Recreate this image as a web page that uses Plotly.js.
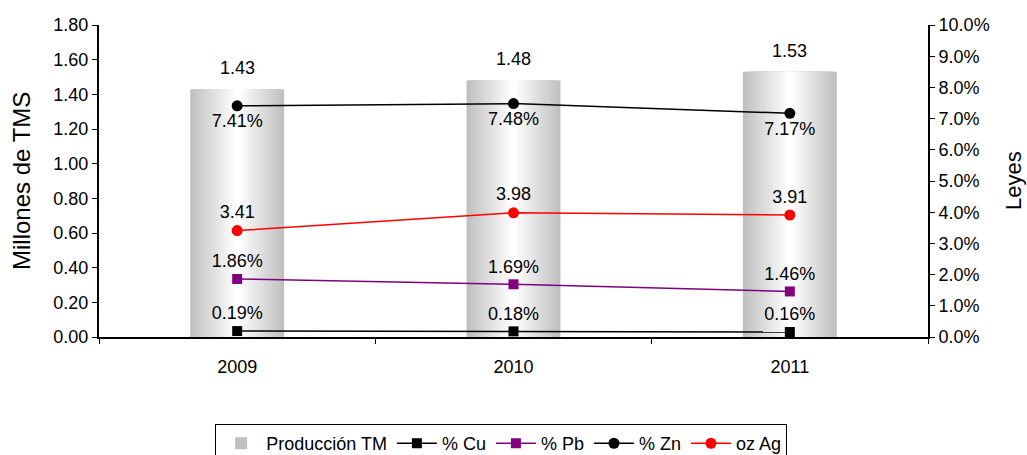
<!DOCTYPE html>
<html>
<head>
<meta charset="utf-8">
<script src="https://cdn.plot.ly/plotly-3.0.1.min.js"></script>
<style>
  html, body { margin: 0; padding: 0; background: #fff; }
  #chart { width: 1027px; height: 455px; }
</style>
</head>
<body>
<div id="chart"></div>
<script>
// Producción anual (millones de TMS) y leyes por año
const years = ['2009', '2010', '2011'];
const produccion = [1.43, 1.48, 1.53];
const leyCu = [0.19, 0.18, 0.16];
const leyPb = [1.86, 1.69, 1.46];
const leyZn = [7.41, 7.48, 7.17];
const ozAg = [3.41, 3.98, 3.91];

const FONT = 'Liberation Sans, Arial, sans-serif';
const TXT = 18;
const BAR_WIDTH = 0.34;
const LAYERS = 18;

// Shaded columns: stacked overlay bars, each narrower and lighter than the
// one beneath it, giving a grey-to-white horizontal gradient.
function shade(t) {
  const g = Math.round(192 + (255 - 192) * t);
  return `rgb(${g},${g},${g})`;
}
const barTraces = [];
for (let k = 0; k < LAYERS; k++) {
  const t = k / (LAYERS - 1);
  barTraces.push({
    type: 'bar',
    x: years,
    y: produccion,
    width: BAR_WIDTH * (1 - k / LAYERS),
    marker: { color: shade(t), line: { width: 0 } },
    name: 'Producción TM',
    showlegend: k === 0,
    hoverinfo: 'skip',
    yaxis: 'y'
  });
}

function leyTrace(name, values, color, symbol, size, pos, suffix) {
  return {
    type: 'scatter',
    mode: 'lines+markers+text',
    x: years,
    y: values,
    name: name,
    yaxis: 'y2',
    line: { color: color, width: 1.5 },
    marker: { color: color, symbol: symbol, size: size },
    text: values.map(v => v.toFixed(2) + suffix),
    textposition: pos,
    textfont: { family: FONT, size: TXT, color: '#000' },
    cliponaxis: false
  };
}

const lineTraces = [
  leyTrace('% Cu', leyCu, '#000000', 'square', 10, 'top center', '%'),
  leyTrace('% Pb', leyPb, '#800080', 'square', 10, 'top center', '%'),
  leyTrace('% Zn', leyZn, '#000000', 'circle', 11, 'bottom center', '%'),
  leyTrace('oz Ag', ozAg, '#ff0000', 'circle', 11, 'top center', '')
];

// Value labels above the columns (category axis: x given by category index)
const barLabels = years.map((yr, i) => ({
  x: i,
  y: produccion[i],
  xref: 'x',
  yref: 'y',
  text: produccion[i].toFixed(2),
  showarrow: false,
  yanchor: 'middle',
  yshift: 21,
  font: { family: FONT, size: TXT, color: '#000' }
}));

// Axis titles placed beside each vertical axis
const axisTitles = [
  {
    text: 'Millones de TMS', textangle: -90,
    xref: 'paper', yref: 'paper', x: 0, y: 0.5,
    xanchor: 'center', yanchor: 'middle', xshift: -78,
    showarrow: false, font: { family: FONT, size: 24, color: '#000' }
  },
  {
    text: 'Leyes', textangle: -90,
    xref: 'paper', yref: 'paper', x: 1, y: 0.5,
    xanchor: 'center', yanchor: 'middle', xshift: 85,
    showarrow: false, font: { family: FONT, size: 22, color: '#000' }
  }
];

const layout = {
  width: 1027,
  height: 455,
  margin: { l: 99, r: 99, t: 25, b: 118 },
  paper_bgcolor: '#fff',
  plot_bgcolor: 'rgba(0,0,0,0)',
  barmode: 'overlay',
  font: { family: FONT, size: TXT, color: '#000' },
  showlegend: true,
  legend: {
    orientation: 'h',
    xref: 'container',
    yref: 'container',
    x: 0.488,
    xanchor: 'center',
    y: 0.068,
    yanchor: 'top',
    bordercolor: '#000',
    borderwidth: 1,
    font: { family: FONT, size: TXT, color: '#000' },
    traceorder: 'normal',
    itemwidth: 40
  },
  xaxis: {
    type: 'category',
    range: [-0.5, 2.5],
    showline: true,
    linecolor: '#000',
    linewidth: 2,
    ticks: 'outside',
    tickson: 'boundaries',
    ticklen: 5,
    tickcolor: '#000',
    ticklabelstandoff: 12,
    tickangle: 0,
    showgrid: false,
    zeroline: false,
    automargin: false,
    tickfont: { family: FONT, size: TXT }
  },
  yaxis: {
    range: [0, 1.8],
    dtick: 0.2,
    tickformat: '.2f',
    showline: true,
    linecolor: '#000',
    linewidth: 2,
    ticks: 'outside',
    ticklen: 5,
    tickcolor: '#000',
    showgrid: false,
    zeroline: false,
    automargin: false,
    tickfont: { family: FONT, size: TXT }
  },
  yaxis2: {
    overlaying: 'y',
    side: 'right',
    range: [0, 10],
    dtick: 1,
    tickformat: '.1f',
    ticksuffix: '%',
    showline: true,
    linecolor: '#000',
    linewidth: 2,
    ticks: 'outside',
    ticklen: 5,
    tickcolor: '#000',
    showgrid: false,
    zeroline: false,
    automargin: false,
    tickfont: { family: FONT, size: TXT }
  },
  annotations: barLabels.concat(axisTitles)
};

Plotly.newPlot('chart', barTraces.concat(lineTraces), layout, { displayModeBar: false, staticPlot: true });
</script>
</body>
</html>
